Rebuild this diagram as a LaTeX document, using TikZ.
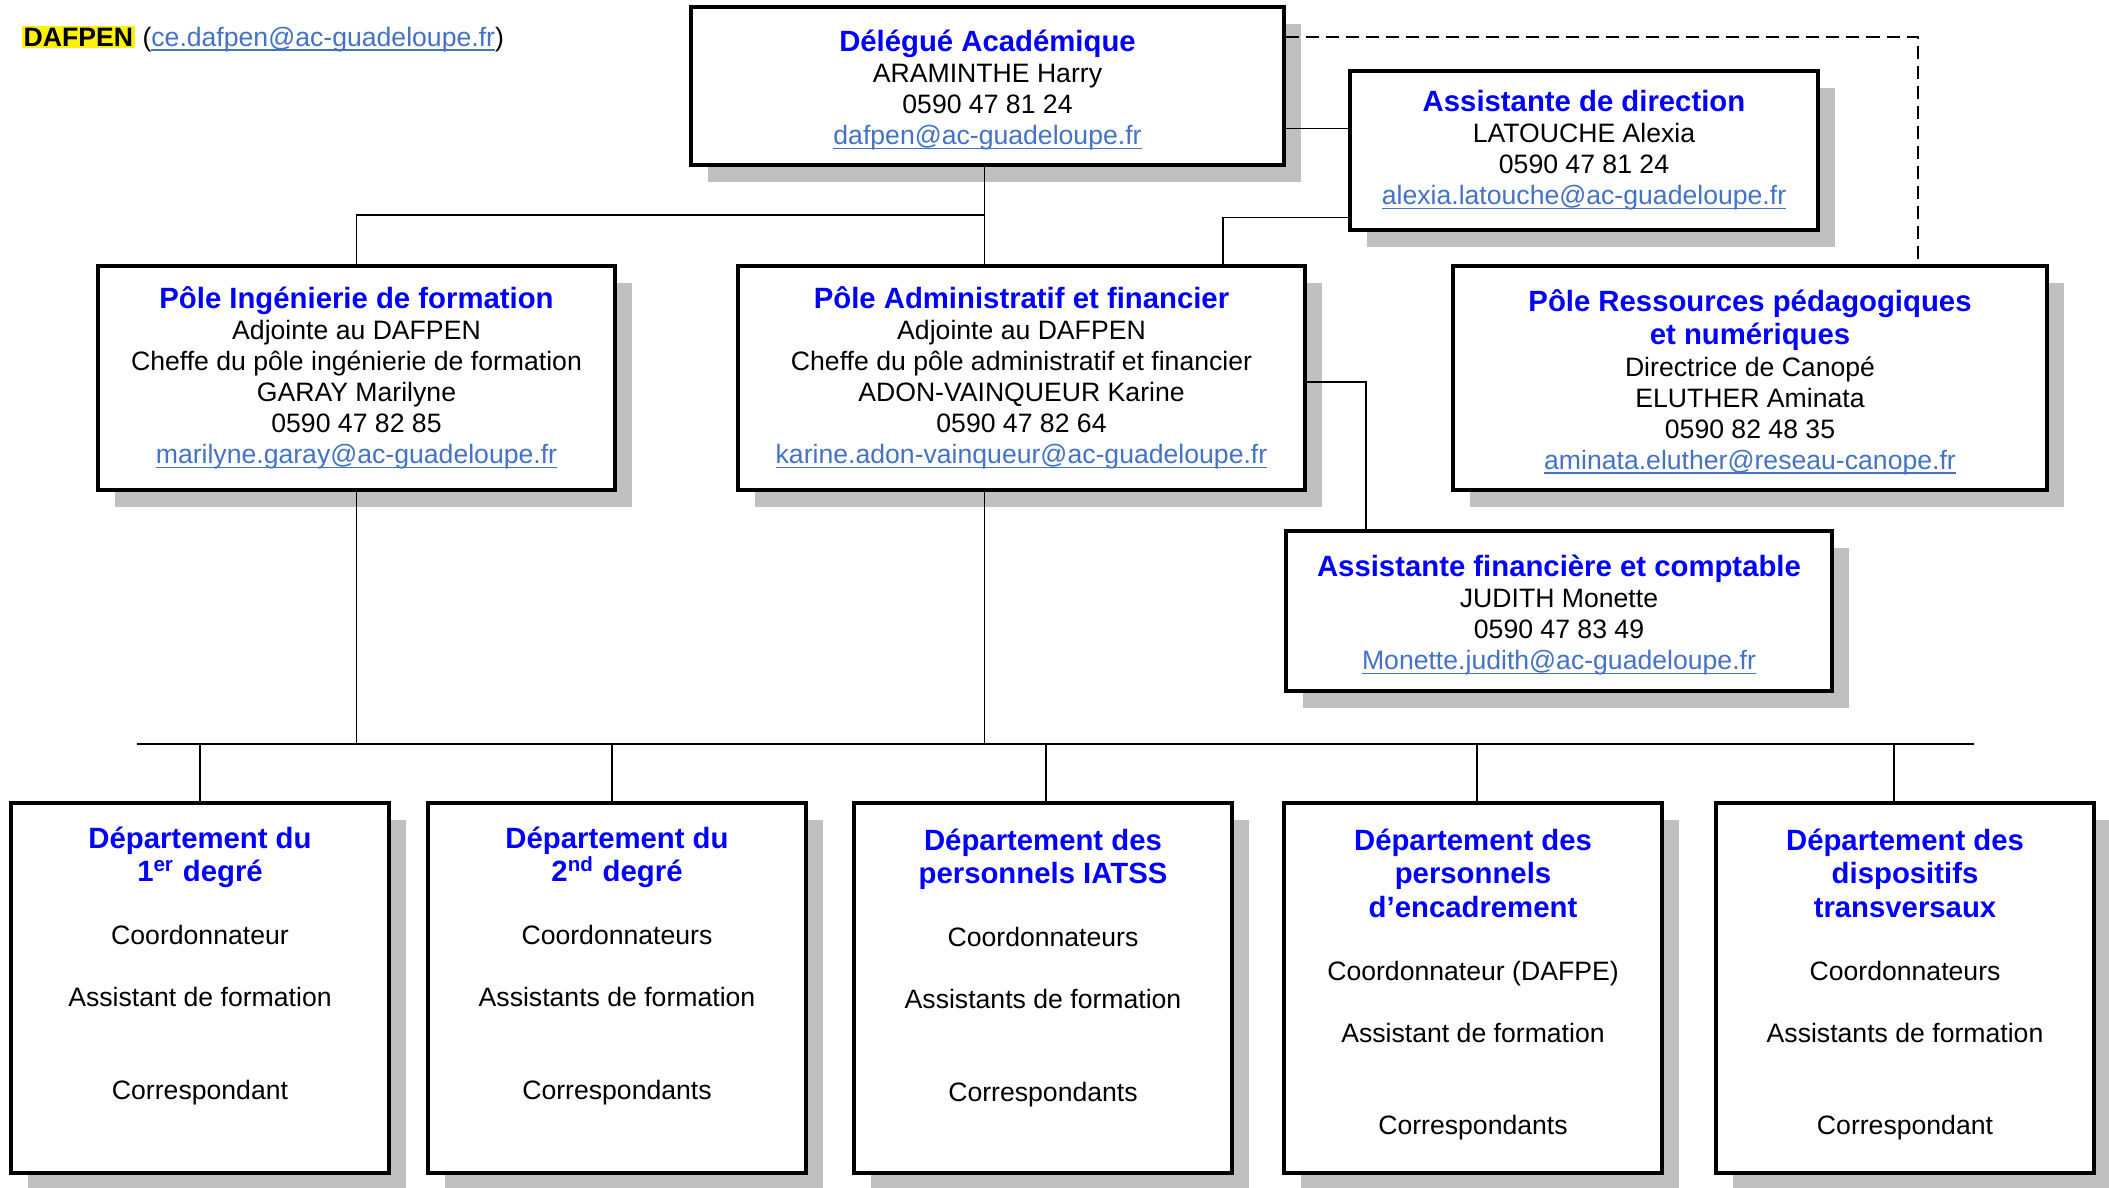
\documentclass[tikz,border=0pt]{standalone}
\usepackage{fontspec}
\setmainfont{Liberation Sans}
\usetikzlibrary{calc,positioning,shadows}

\definecolor{titleblue}{RGB}{0,0,255}
\definecolor{linkblue}{RGB}{68,114,196}
\definecolor{shadowgray}{RGB}{192,192,192}

\newcommand{\bodysize}{\fontsize{0.266cm}{0.31cm}\selectfont}
\newcommand{\tit}[1]{{\fontsize{0.293cm}{0.31cm}\selectfont\bfseries\color{titleblue}#1}}
\newcommand{\tstrut}{\rule{0pt}{0.30cm}}
\newcommand{\lnk}[1]{{\color{linkblue}\setbox0\hbox{#1}\rlap{\rule[-0.045cm]{\wd0}{0.016cm}}\box0}}
\newcommand{\hilite}[1]{{\fboxsep=0.02cm\setbox0\hbox{\colorbox{yellow}{\bfseries #1}}\rlap{\rule[-\dp0]{\wd0}{0.03cm}}\box0}}

\tikzset{
    orgbox/.style={draw, line width=1.1pt, fill=white, align=center, inner sep=0pt, font=\bodysize,
        drop shadow={shadow xshift=0.17cm, shadow yshift=-0.17cm, fill=shadowgray, opacity=1}},
    deptbox/.style={orgbox, minimum width=3.78cm, minimum height=3.70cm},
    depttext/.style={align=center, inner sep=0pt, font=\bodysize, anchor=north},
    link/.style={line width=0.5pt},
    bus/.style={line width=0.7pt},
}

\begin{document}
\begin{tikzpicture}[x=0.01cm, y=-0.01cm]
        \path[use as bounding box, fill=white] (0,0) rectangle (2109,1187);

        \node[anchor=west, inner sep=0pt, font=\bodysize] (dafpen) at (21,39) {\hilite{DAFPEN} (\lnk{ce.dafpen@ac-guadeloupe.fr})};

        % direction
        \node[orgbox, minimum width=5.93cm, minimum height=1.58cm] (deleg) at (987.5,86)
            {\tstrut\tit{Délégué Académique}\\ARAMINTHE Harry\\0590 47 81 24\\\lnk{dafpen@ac-guadeloupe.fr}};
        \node[orgbox, minimum width=4.68cm, minimum height=1.59cm] (asdir) at (1584,150.5)
            {\tit{Assistante de direction}\\LATOUCHE Alexia\\0590 47 81 24\\\lnk{alexia.latouche@ac-guadeloupe.fr}};

        % poles
        \node[orgbox, minimum width=5.17cm, minimum height=2.24cm] (poleing) at (356.5,378)
            {\tit{Pôle Ingénierie de formation}\\Adjointe au DAFPEN\\Cheffe du pôle ingénierie de formation\\GARAY Marilyne\\0590 47 82 85\\\lnk{marilyne.garay@ac-guadeloupe.fr}};
        \node[orgbox, minimum width=5.67cm, minimum height=2.24cm] (poleadm) at (1021.5,378)
            {\tit{Pôle Administratif et financier}\\Adjointe au DAFPEN\\Cheffe du pôle administratif et financier\\ADON-VAINQUEUR Karine\\0590 47 82 64\\\lnk{karine.adon-vainqueur@ac-guadeloupe.fr}};
        \node[orgbox, minimum width=5.94cm, minimum height=2.24cm] (poleres) at (1750,378)
            {\tstrut\tit{Pôle Ressources pédagogiques}\\[0.025cm]\tit{et numériques}\\Directrice de Canopé\\ELUTHER Aminata\\0590 82 48 35\\\lnk{aminata.eluther@reseau-canope.fr}};
        \node[orgbox, minimum width=5.46cm, minimum height=1.60cm] (asfin) at (1559,611)
            {\tstrut\tit{Assistante financière et comptable}\\JUDITH Monette\\0590 47 83 49\\\lnk{Monette.judith@ac-guadeloupe.fr}};

        % departements
        \node[deptbox] (dep1) at (200,988) {};
        \node[deptbox] (dep2) at (617,988) {};
        \node[deptbox] (dep3) at (1043,988) {};
        \node[deptbox] (dep4) at (1473,988) {};
        \node[deptbox] (dep5) at (1905,988) {};

        \node[depttext] (dep1 txt) at ($(dep1.north)+(0,25)$)
            {\tit{Département du}\\[0.027cm]\tit{1\textsuperscript{er} degré}\\[0.32cm]Coordonnateur\\[0.31cm]Assistant de formation\\[0.61cm]Correspondant};
        \node[depttext] (dep2 txt) at ($(dep2.north)+(0,25)$)
            {\tit{Département du}\\[0.027cm]\tit{2\textsuperscript{nd} degré}\\[0.32cm]Coordonnateurs\\[0.31cm]Assistants de formation\\[0.61cm]Correspondants};
        \node[depttext] (dep3 txt) at ($(dep3.north)+(0,27)$)
            {\tit{Département des}\\[0.027cm]\tit{personnels IATSS}\\[0.32cm]Coordonnateurs\\[0.31cm]Assistants de formation\\[0.61cm]Correspondants};
        \node[depttext] (dep4 txt) at ($(dep4.north)+(0,27)$)
            {\tit{Département des}\\[0.027cm]\tit{personnels}\\[0.027cm]\tit{d’encadrement}\\[0.32cm]Coordonnateur (DAFPE)\\[0.31cm]Assistant de formation\\[0.61cm]Correspondants};
        \node[depttext] (dep5 txt) at ($(dep5.north)+(0,27)$)
            {\tit{Département des}\\[0.027cm]\tit{dispositifs}\\[0.027cm]\tit{transversaux}\\[0.32cm]Coordonnateurs\\[0.31cm]Assistants de formation\\[0.61cm]Correspondant};

        % liaisons
        \draw[link] (poleing.north) -- ++(0,-49) -| ($(deleg.south)+(-3,0)$) coordinate (deleg foot);
        \draw[link] (deleg foot) -- (deleg foot |- poleadm.north);
        \draw[link] ($(asdir.west)+(0,-22)$) coordinate (dir in) -- (dir in -| deleg.east);
        \draw[link] ($(asdir.west)+(0,67)$) -| ($(poleadm.north)+(201.5,0)$);
        \draw[link] ($(poleadm.east)+(0,4)$) -| ($(asfin.north west)+(82,0)$);
        \draw[link, dash pattern=on 0.13cm off 0.07cm, line width=0.7pt] ($(deleg.north east)+(0,32)$) -| ($(poleres.north)+(168,0)$);

        \coordinate (bus left) at (137,744);
        \coordinate (bus right) at (1974,744);
        \draw[bus] (bus left) -- (bus right);
        \draw[link] (poleing.south) -- (poleing.south |- bus left);
        \draw[link] (deleg foot |- poleadm.south) -- (deleg foot |- bus left);
        \foreach \d/\dx in {1/0,2/-5,3/3,4/4,5/-11}
            \draw[link] ($(dep\d.north)+(\dx,0)$) -- ($(dep\d.north |- bus left)+(\dx,0)$);
\end{tikzpicture}
\end{document}
